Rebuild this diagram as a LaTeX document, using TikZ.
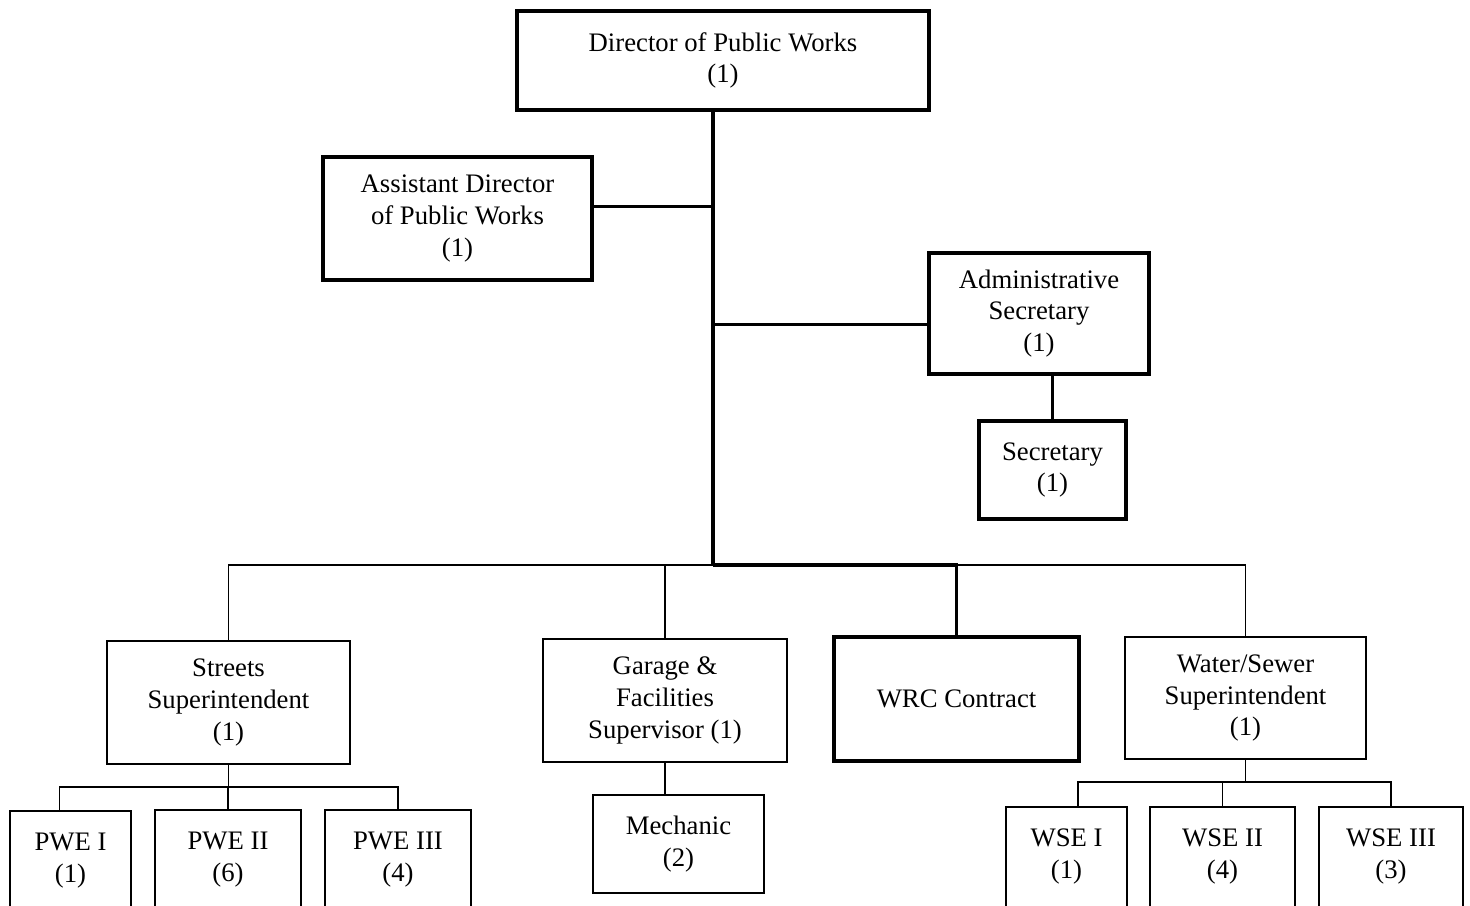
\documentclass[tikz,border=0pt]{standalone}
\usepackage{fontspec}
\setmainfont{Liberation Serif}
\usepackage{tikz}

\begin{document}
\begin{tikzpicture} %Organigrama
  [
    % Estilos de las cajas y lineas para no repetir codigo
    caja/.style={rectangle, draw, line width=0.5pt, align=center, inner sep=0pt,
      font=\fontsize{7.6}{9}\selectfont},
    cajag/.style={caja, line width=1.1pt},
    cajam/.style={caja, line width=0.8pt},
    fina/.style={line width=0.5pt},
    gruesa/.style={line width=1.1pt}
  ]
  \clip (0,0) rectangle (14.7,-9.05);
  \node[cajag, minimum width=4.12cm, minimum height=0.99cm] (d) at (7.23,-0.605) {Director of Public Works\\(1)};
  \node[cajag, minimum width=2.69cm, minimum height=1.23cm] (ad) at (4.575,-2.185) {Assistant Director\\of Public Works\\(1)};
  \node[cajag, minimum width=2.20cm, minimum height=1.21cm] (as) at (10.39,-3.135) {Administrative\\Secretary\\(1)};
  \node[cajag, minimum width=1.47cm, minimum height=0.98cm] (s) at (10.525,-4.70) {Secretary\\(1)};
  \node[caja, minimum width=2.43cm, minimum height=1.23cm] (st) at (2.285,-7.025) {Streets\\Superintendent\\(1)};
  \node[cajam, minimum width=2.44cm, minimum height=1.23cm] (g) at (6.65,-7.005) {Garage \&\\Facilities\\Supervisor (1)};
  \node[cajag, minimum width=2.45cm, minimum height=1.24cm] (w) at (9.565,-6.99) {WRC Contract};
  \node[caja, minimum width=2.41cm, minimum height=1.22cm] (ws) at (12.455,-6.98) {Water/Sewer\\Superintendent\\(1)};
  \node[caja, minimum width=1.21cm, minimum height=1.34cm] (p1) at (0.705,-8.78) {PWE I\\(1)\\\strut};
  \node[caja, minimum width=1.46cm, minimum height=1.34cm] (p2) at (2.28,-8.77) {PWE II\\(6)\\\strut};
  \node[caja, minimum width=1.46cm, minimum height=1.34cm] (p3) at (3.98,-8.77) {PWE III\\(4)\\\strut};
  \node[cajam, minimum width=1.71cm, minimum height=0.98cm] (m) at (6.785,-8.44) {Mechanic\\(2)};
  \node[caja, minimum width=1.21cm, minimum height=1.34cm] (e1) at (10.665,-8.74) {WSE I\\(1)\\\strut};
  \node[caja, minimum width=1.45cm, minimum height=1.34cm] (e2) at (12.225,-8.74) {WSE II\\(4)\\\strut};
  \node[caja, minimum width=1.44cm, minimum height=1.34cm] (e3) at (13.91,-8.74) {WSE III\\(3)\\\strut};
  \coordinate (b) at (7.13,-5.65);
  \coordinate (sb) at (2.285,-7.87);
  \coordinate (wb) at (12.455,-7.82);
  \draw[gruesa] (b |- d.south) -- (b);
  \draw[gruesa] ([yshift=1.2mm]ad.east) -- ([yshift=1.2mm]ad.east -| b);
  \draw[gruesa] ([yshift=-1.1mm]as.west) -- ([yshift=-1.1mm]as.west -| b);
  \draw[gruesa] (s.north) -- (s.north |- as.south);
  \draw[fina] (st.north) |- (b);
  \draw[fina] (g.north) -- (g.north |- b);
  \draw[gruesa] (b) -| (w.north);
  \draw[fina] (ws.north) |- (w.north |- b);
  \draw[fina] (st.south) -- (sb);
  \draw[fina] ([xshift=-1.1mm]p1.north) |- (sb);
  \draw[fina] (p2.north) -- (p2.north |- sb);
  \draw[fina] (p3.north) |- (sb);
  \draw[cajam] (g.south) -- (g.south |- m.north);
  \draw[fina] (ws.south) -- (wb);
  \draw[fina] ([xshift=1.15mm]e1.north) |- (wb);
  \draw[fina] (e2.north) -- (e2.north |- wb);
  \draw[fina] (e3.north) |- (wb);
\end{tikzpicture}
\end{document}
